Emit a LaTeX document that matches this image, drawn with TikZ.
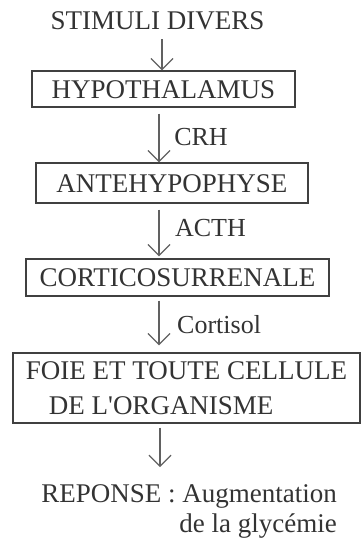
\documentclass[tikz,border=0pt]{standalone}
\usepackage{fontspec}
\setmainfont{Liberation Serif}
\usetikzlibrary{arrows.meta}
\begin{document}
\begin{tikzpicture}[x=1pt,y=-1pt,
  txt/.style={font=\fontsize{27}{35}\selectfont, text=black!80, inner sep=0pt, text height=18pt, text depth=0pt},
  lbl/.style={font=\fontsize{26}{30}\selectfont, text=black!80, inner sep=0pt, text height=18pt, text depth=0pt},
  boxed/.style={txt, draw=black!75, line width=1.4pt},
  arr/.style={draw=black!62, line width=1.2pt, -{Straight Barb[length=11pt,width=22pt,line width=1.2pt]}}]
\useasboundingbox (0,0) rectangle (362,543);
\node[txt] (stim) at (157.5,21) {STIMULI DIVERS};
\node[boxed, minimum width=263pt, minimum height=36pt] (hypo) at (163.5,89) {HYPOTHALAMUS};
\node[boxed, minimum width=272pt, minimum height=40pt] (ante) at (172,183) {ANTEHYPOPHYSE};
\node[boxed, minimum width=303pt, minimum height=37pt] (cort) at (177.5,277.5) {CORTICOSURRENALE};
\node[boxed, minimum width=347pt, minimum height=70pt, align=left, text height=, text depth=, font=\fontsize{27}{35}\selectfont] (foie) at (186.5,388)
  {FOIE ET TOUTE CELLULE\\\hspace*{23pt}DE L\textquotesingle ORGANISME};
\node[txt, align=right, text height=, text depth=, font=\fontsize{27}{30}\selectfont, anchor=north east] (resp) at (337,484)
  {REPONSE : Augmentation\\de la glycémie};
\node[lbl] (crh) at (201,136) {CRH};
\node[lbl] (acth) at (210.5,227.5) {ACTH};
\node[lbl, anchor=base west] (corti) at (177,333) {Cortisol};
\coordinate (a1) at (162,0);
\coordinate (a2) at (159,0);
\coordinate (a5) at (160,0);
\draw[arr, shorten <=9pt] (stim.south -| a1) -- (hypo.north -| a1);
\draw[arr, shorten <=6pt] (hypo.south -| a2) -- (ante.north -| a2);
\draw[arr, shorten <=6pt, shorten >=2pt] (ante.south -| a2) -- (cort.north -| a2);
\draw[arr, shorten <=4pt, shorten >=7pt] (cort.south -| a2) -- (foie.north -| a2);
\draw[arr, shorten <=4pt, shorten >=17pt] (foie.south -| a5) -- (resp.north -| a5);
\end{tikzpicture}
\end{document}
